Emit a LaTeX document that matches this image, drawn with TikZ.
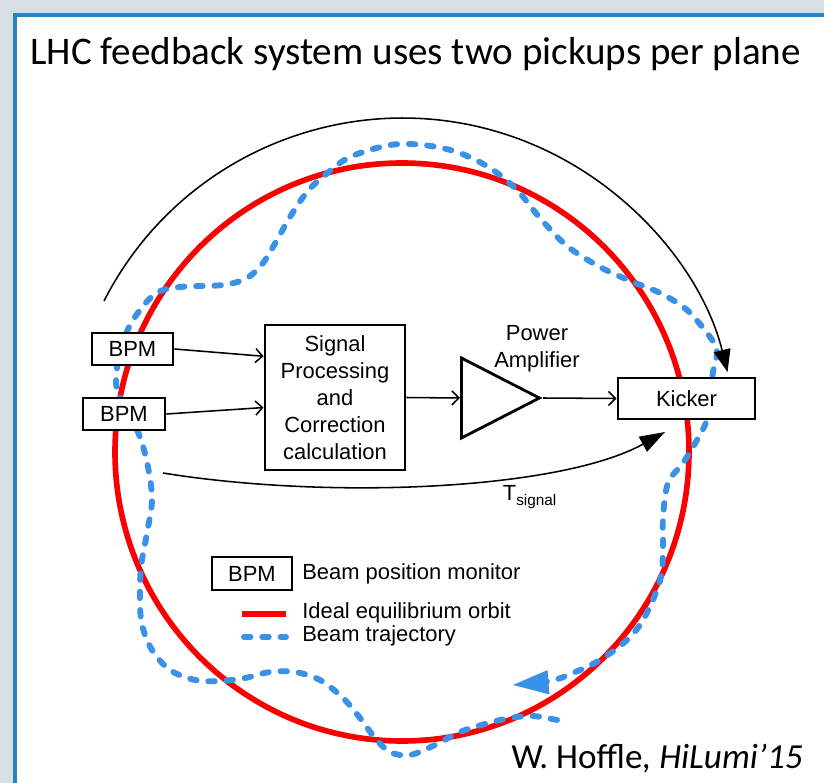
\documentclass[tikz,border=0pt]{standalone}
\usepackage{fontspec}
\setmainfont{Liberation Sans}
\newfontfamily\slidefont{Carlito}
\usetikzlibrary{calc, shapes.geometric, arrows.meta}
\definecolor{slidebg}{RGB}{214,222,230}
\definecolor{slideedge}{RGB}{40,130,190}
\definecolor{orbitred}{RGB}{250,0,0}
\definecolor{beamblue}{RGB}{58,145,232}
\tikzset{
  blockbox/.style={draw, line width=2pt, fill=white, inner sep=0pt, align=center,
    font=\fontsize{15.6}{19.2}\selectfont},
  lbl/.style={inner sep=0pt, align=center, font=\fontsize{15.6}{19.2}\selectfont},
  sigline/.style={line width=1.1pt, -{Straight Barb[length=5pt,width=10pt]}},
  turnline/.style={line width=1.1pt},
  orbit/.style={draw=orbitred, line width=4pt},
  beam/.style={draw=beamblue, line width=4.2pt, line cap=round, dash pattern=on 4.6pt off 8.4pt},
}

\begin{document}
\begin{tikzpicture}[x=0.025cm, y=-0.025cm]
%Slide frame
\useasboundingbox (0,0) rectangle (824,783);
\fill[slidebg] (0,0) rectangle (824,783);
\fill[white] (15,15) rectangle (824,783);
\draw[slideedge, line width=2.2pt] (15,783) -- (15,15) -- (824,15);
\node[anchor=base west, inner sep=0pt, font=\slidefont\fontsize{27.8}{33}\selectfont] (title) at (30,64)
  {LHC feedback system uses two pickups per plane};
%Ideal orbit
\draw[orbit] (402,452) ellipse [x radius=287, y radius=289];
%Beam trajectory, one turn
\draw[beam, -{Triangle[length=26pt,width=16pt]}] plot[smooth, tension=0.55] coordinates {
  (557,720) (533,716) (510,718) (485,724) (460,732) (435,745) (410,755) (390,752)
  (375,738) (360,718) (343,698) (320,680) (295,672) (270,672) (245,678) (220,681)
  (195,680) (170,670) (152,650) (142,625) (140,600) (141,567) (147,533) (152,500)
  (148,467) (140,437) (128,413) (117,390) (117,368) (122,345) (133,320) (155,294)
  (180,287) (223,285) (247,278) (263,263) (277,240) (290,217) (307,192) (325,175)
  (350,157) (390,145) (423,145) (457,152) (490,168) (517,190) (540,218) (567,246)
  (600,267) (633,282) (660,293) (687,310) (710,337) (717,352) (713,372) (710,400)
  (707,420) (697,440) (683,463) (668,483) (663,517) (663,543) (662,570) (657,590)
  (643,620) (627,640) (600,660) (573,673) (550,681) (512,685)};
%Revolution arrow
\coordinate (turnStart) at (104,301);
\draw[turnline, -{Triangle[length=16pt,width=12pt]}] (turnStart) arc[start angle=207, end angle=346, radius=335];
%Blocks
\node[blockbox, minimum width=2.025cm, minimum height=0.8cm] (bpmA) at (132.5,349) {BPM};
\node[blockbox, minimum width=2.05cm, minimum height=0.8cm] (bpmB) at (124,414) {BPM};
\node[blockbox, minimum width=3.5cm, minimum height=3.625cm] (sigproc) at (335,397.5)
  {Signal\\Processing\\and\\Correction\\calculation};
\node[draw, line width=2pt, fill=white, isosceles triangle, isosceles triangle stretches,
  minimum width=2cm, minimum height=1.95cm, inner sep=0pt, anchor=lower side] (amp) at (460,398) {};
\node[lbl] (amplabel) at (537,348.5) {Power\\Amplifier};
\node[blockbox, minimum width=3.425cm, minimum height=1.025cm] (kicker) at (686.5,398.5) {Kicker};
%Signal path
\draw[sigline] (bpmA.east) -- (sigproc.150);
\draw[sigline] (bpmB.east) -- (sigproc.188);
\draw[sigline] (sigproc.east) -- (amp.lower side);
\draw[sigline] (amp.apex) -- (kicker.west);
%Signal delay
\coordinate (tStart) at (163,473);
\coordinate (tEnd) at (665,432);
\draw[turnline, -{Triangle[length=18pt,width=12pt]}] (tStart) .. controls (330,500) and (560,490) .. (tEnd);
\node[lbl] (tsig) at (530,497) {T\textsubscript{signal}};
%Legend
\node[blockbox, minimum width=2cm, minimum height=0.825cm] (legbpm) at (252,573.5) {BPM};
\node[lbl, anchor=west] (legbpmtext) at (302,573.5) {Beam position monitor};
\draw[orbit] (242,614) -- (286,614);
\node[lbl, anchor=west] (legorbit) at (302,613) {Ideal equilibrium orbit};
\draw[beam] (244,637) -- (286,637);
\node[lbl, anchor=west] (legbeam) at (302,636) {Beam trajectory};
%Credit
\node[anchor=base east, inner sep=0pt, font=\slidefont\fontsize{25}{30}\selectfont] (credit) at (803,768)
  {W. Hoffle\textit{, HiLumi’15}};
\end{tikzpicture}
\end{document}
